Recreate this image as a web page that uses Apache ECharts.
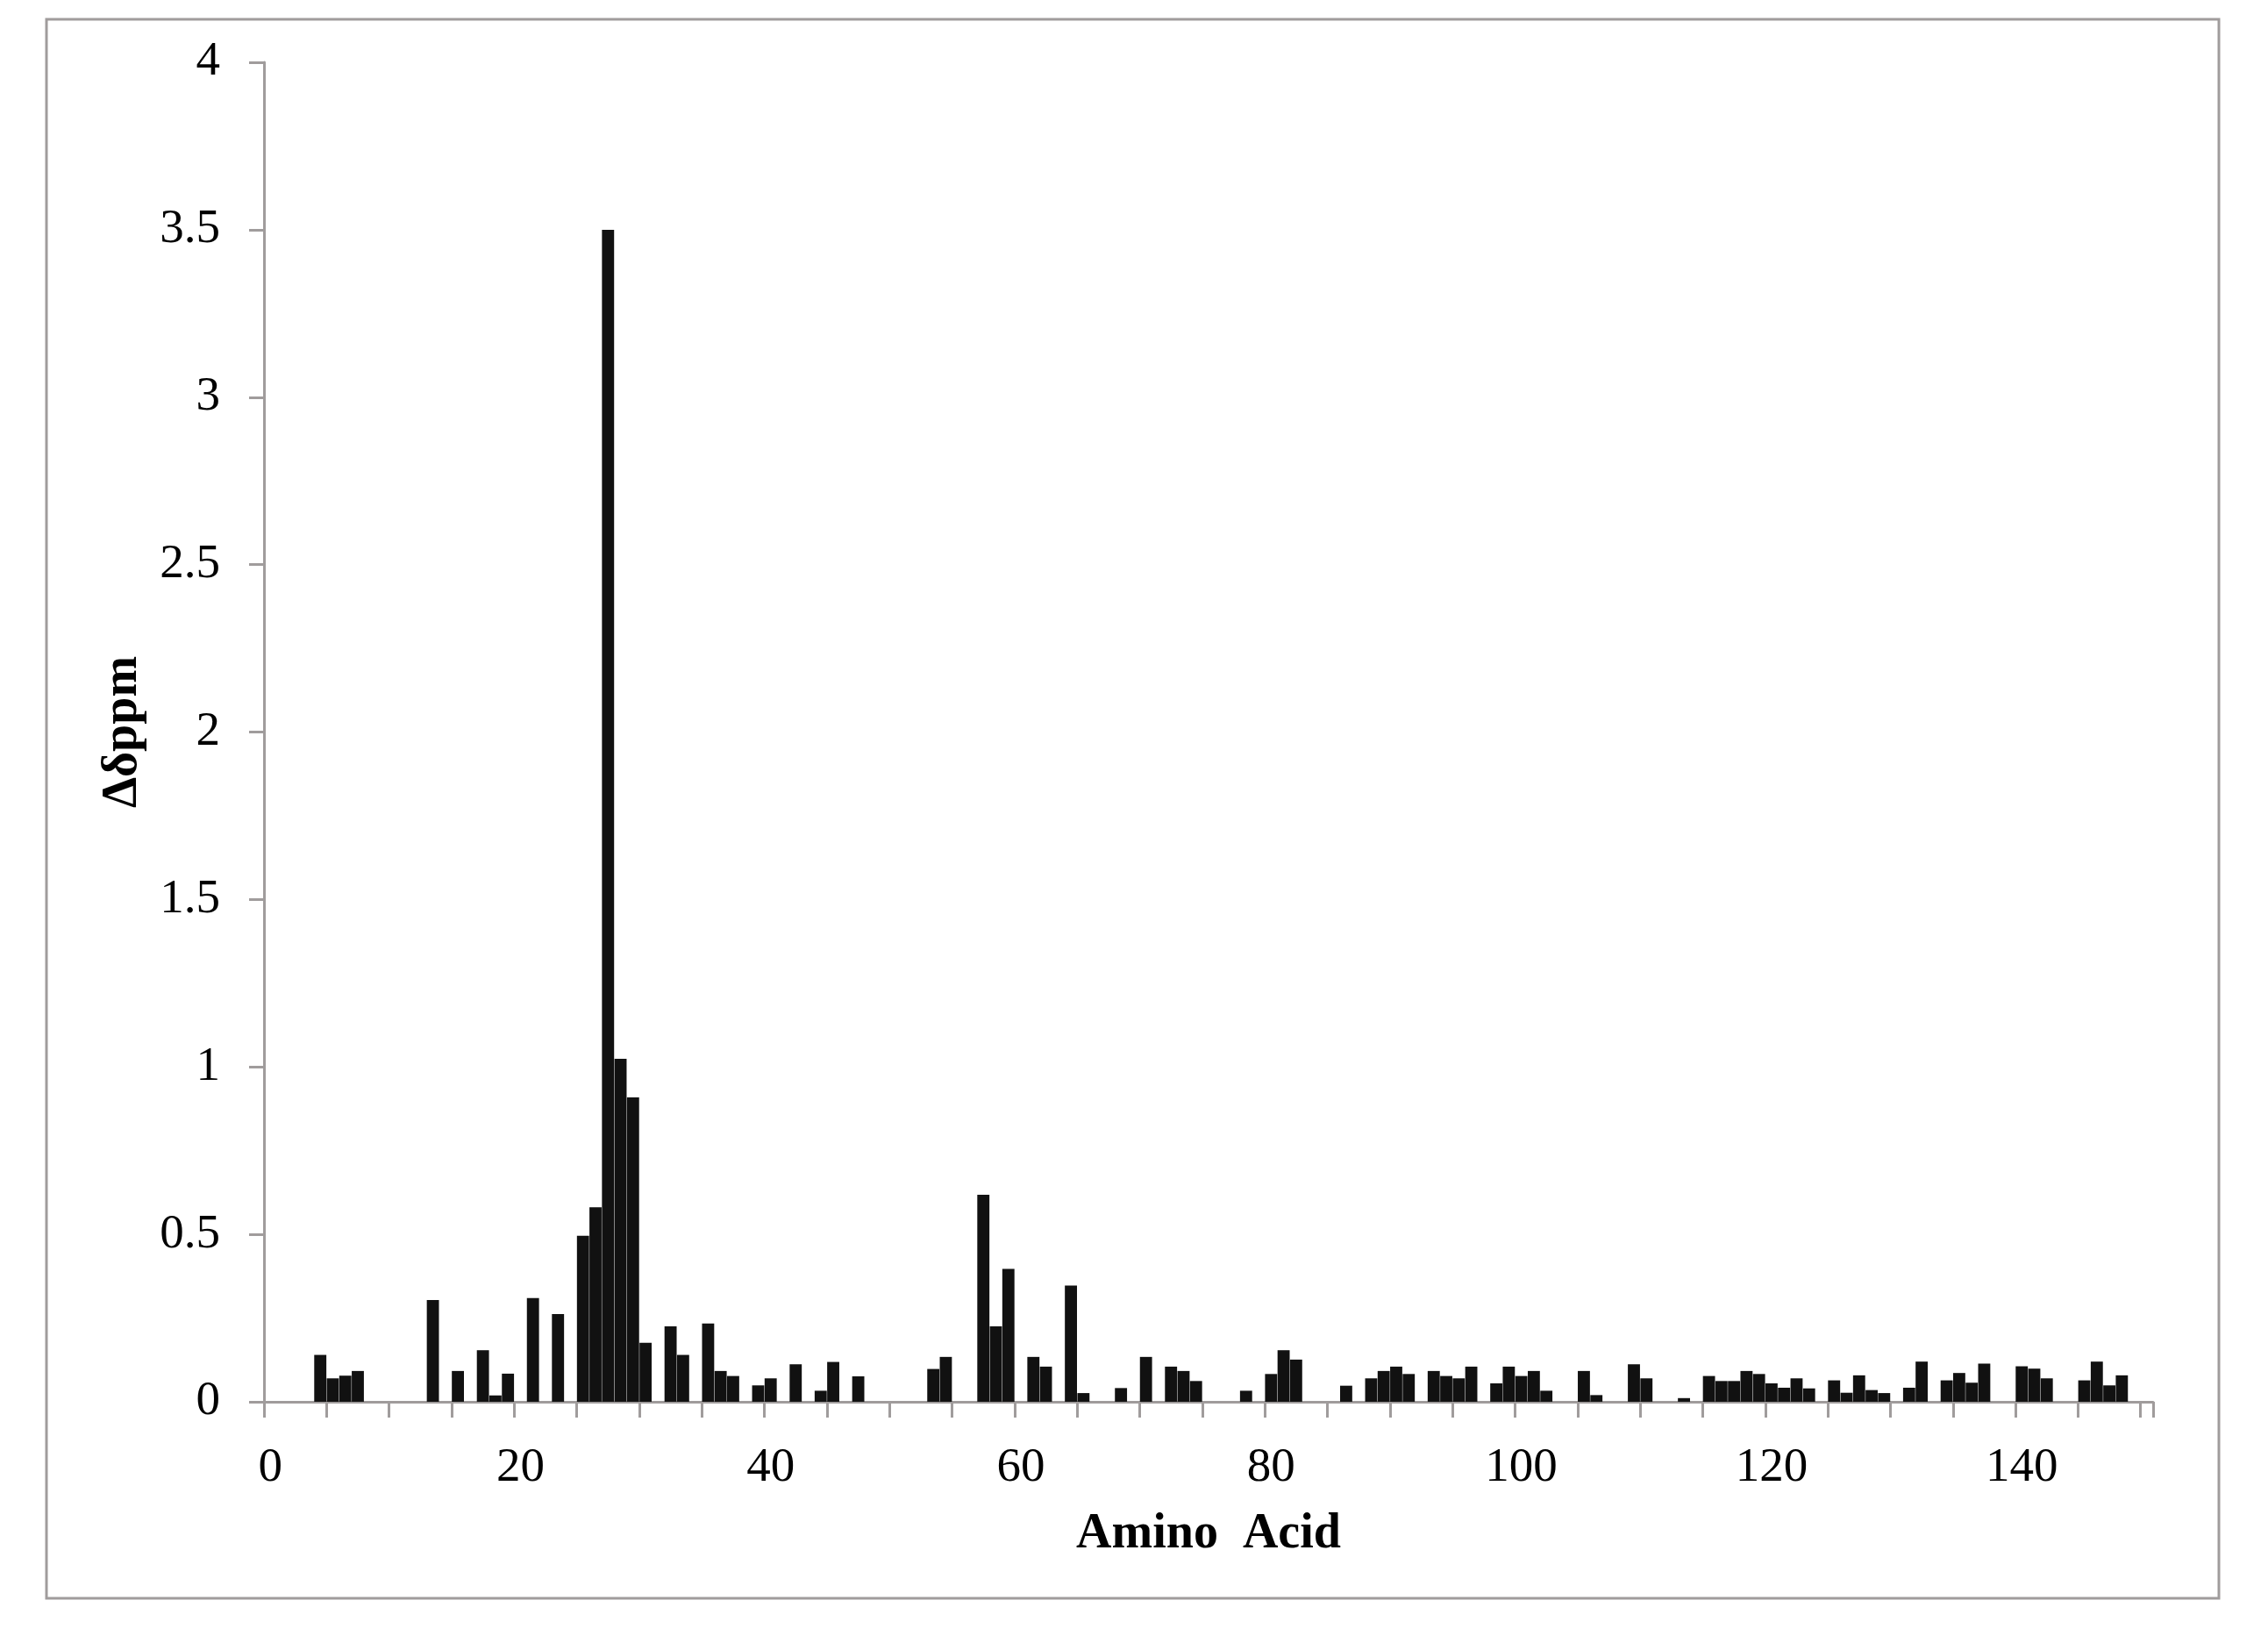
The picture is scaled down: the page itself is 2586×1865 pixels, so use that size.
<!DOCTYPE html>
<html>
<head>
<meta charset="utf-8">
<script src="https://cdn.jsdelivr.net/npm/echarts@6/dist/echarts.min.js"></script>
<style>
  html, body { margin: 0; padding: 0; background: #fff; }
  #chart { width: 2586px; height: 1865px; }
</style>
</head>
<body>
<div id="chart"></div>
<script>
// residue numbers that have a measured shift, and the shift (ppm)
var residues = [4, 5, 6, 7, 13, 15, 17, 18, 19, 21, 23, 25, 26, 27, 28, 29, 30,
  32, 33, 35, 36, 37, 39, 40, 42, 44, 45, 47, 53, 54, 57, 58, 59, 61, 62, 64, 65,
  68, 70, 72, 73, 74, 78, 80, 81, 82, 86, 88, 89, 90, 91, 93, 94, 95, 96, 98, 99,
  100, 101, 102, 105, 106, 109, 110, 113, 115, 116, 117, 118, 119, 120, 121, 122,
  123, 125, 126, 127, 128, 129, 131, 132, 134, 135, 136, 137, 140, 141, 142, 145,
  146, 147, 148];
var shifts = [0.14, 0.07, 0.078, 0.092, 0.304, 0.092, 0.154, 0.019, 0.084, 0.31,
  0.262, 0.496, 0.581, 3.5, 1.024, 0.909, 0.176,
  0.225, 0.14, 0.234, 0.092, 0.077, 0.049, 0.07, 0.112, 0.033, 0.119, 0.076,
  0.098, 0.134, 0.618, 0.225, 0.397, 0.134, 0.105, 0.347, 0.026,
  0.041, 0.134, 0.105, 0.092, 0.062, 0.033, 0.083, 0.154, 0.126, 0.048, 0.07,
  0.092, 0.105, 0.083, 0.092, 0.077, 0.07, 0.105, 0.055, 0.105,
  0.077, 0.092, 0.033, 0.092, 0.02, 0.112, 0.07, 0.011, 0.077, 0.062, 0.062,
  0.092, 0.083, 0.055, 0.042, 0.07,
  0.04, 0.064, 0.027, 0.079, 0.035, 0.026, 0.042, 0.12, 0.064, 0.086, 0.057,
  0.114, 0.106, 0.099, 0.07, 0.064,
  0.12, 0.049, 0.079];
var lastResidue = 150;
var yTicks = { min: 0, max: 4, step: 0.5 };

var categories = [];
var values = [];
for (var i = 0; i <= lastResidue; i++) {
  categories.push(String(i));
  values.push(null);
}
residues.forEach(function (r, k) { values[r] = shifts[k]; });

var font = '"Liberation Serif", "Times New Roman", serif';
var axisGrey = '#a09c9c';

var chart = echarts.init(document.getElementById('chart'), null, { renderer: 'canvas' });
chart.setOption({
  backgroundColor: '#fff',
  animation: false,
  graphic: [{
    type: 'rect',
    shape: { x: 53, y: 22, width: 2477, height: 1800 },
    style: { fill: 'none', stroke: axisGrey, lineWidth: 3 },
    silent: true
  }],
  grid: { left: 301, right: 131, top: 71, bottom: 267 },
  xAxis: {
    type: 'category',
    data: categories,
    boundaryGap: true,
    name: 'Amino  Acid',
    nameLocation: 'middle',
    nameGap: 124,
    nameTextStyle: { fontFamily: font, fontSize: 56, fontWeight: 'bold', color: '#000' },
    axisLine: { lineStyle: { color: axisGrey, width: 3 } },
    axisTick: { show: true, interval: 4, length: 18, lineStyle: { color: axisGrey, width: 3 } },
    axisLabel: { interval: 19, margin: 48, fontFamily: font, fontSize: 55, color: '#000' },
    splitLine: { show: false }
  },
  yAxis: {
    type: 'value',
    min: yTicks.min,
    max: yTicks.max,
    interval: yTicks.step,
    name: 'Δδppm',
    nameLocation: 'middle',
    nameGap: 132,
    nameRotate: 90,
    nameTextStyle: { fontFamily: font, fontSize: 56, fontWeight: 'bold', color: '#000' },
    axisLine: { show: true, lineStyle: { color: axisGrey, width: 3 } },
    axisTick: { show: true, length: 17, lineStyle: { color: axisGrey, width: 3 } },
    axisLabel: { margin: 50, fontFamily: font, fontSize: 55, color: '#000' },
    splitLine: { show: false }
  },
  series: [{
    type: 'bar',
    data: values,
    barCategoryGap: '3%',
    itemStyle: { color: '#111111' }
  }]
});
</script>
</body>
</html>
